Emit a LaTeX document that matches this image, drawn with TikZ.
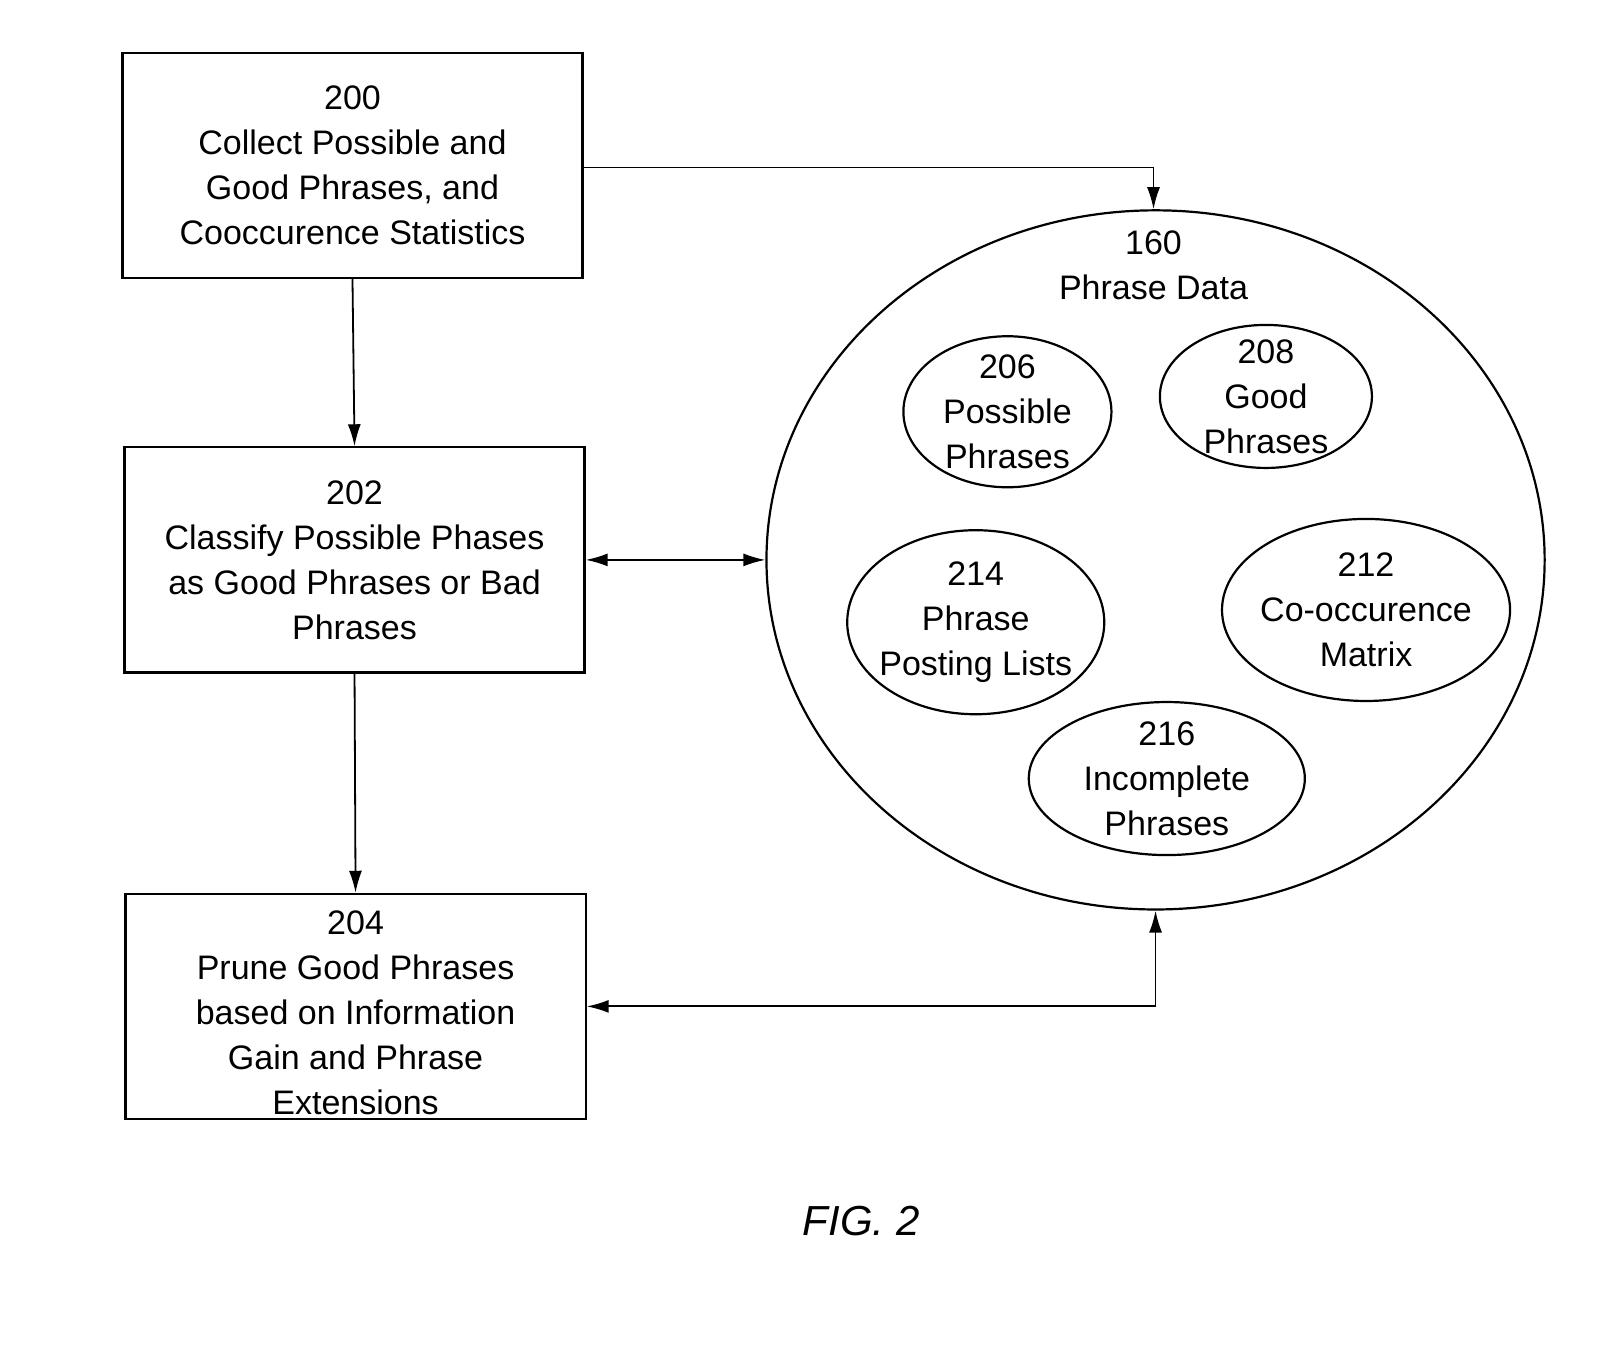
\documentclass[tikz,border=0pt]{standalone}
\usepackage{fontspec}
\setmainfont{Liberation Sans}
\usetikzlibrary{shapes.geometric,arrows.meta}
\begin{document}
\begin{tikzpicture}[x=1.0215pt,y=-1.0215pt,
  txt/.style={align=center,font=\fontsize{34}{45}\selectfont,inner sep=0pt},
  box/.style={draw,line width=2.2pt,minimum width=460pt,minimum height=225pt,inner sep=0pt,txt},
  ell/.style={draw,ellipse,line width=2.2pt,inner sep=0pt},
  arr/.style={line width=1.8pt,-{Latex[length=22pt,width=13pt]}},
  darr/.style={line width=1.8pt,{Latex[length=22pt,width=13pt]}-{Latex[length=22pt,width=13pt]}}]
\useasboundingbox (0,0) rectangle (1566,1329);
\node[box] (b200) at (345,162) {200\\Collect Possible and\\Good Phrases, and\\Cooccurence Statistics};
\node[box] (b202) at (347,548) {202\\Classify Possible Phases\\as Good Phrases or Bad\\Phrases};
\node[box] (b204) at (348,985) {\\[-8pt]204\\Prune Good Phrases\\based on Information\\Gain and Phrase\\Extensions};
\node[ell,minimum width=778pt,minimum height=699pt] (c160) at (1131,548) {};
\node[txt] at (1129,260) {160\\Phrase Data};
\node[ell,minimum width=208pt,minimum height=151pt] (e206) at (986,403) {};
\node[txt] at (e206) {206\\Possible\\Phrases};
\node[ell,minimum width=212pt,minimum height=143pt] (e208) at (1239,388) {};
\node[txt] at (e208) {208\\Good\\Phrases};
\node[ell,minimum width=257pt,minimum height=184pt] (e214) at (955,609) {};
\node[txt] at (e214) {214\\Phrase\\Posting Lists};
\node[ell,minimum width=288pt,minimum height=182pt] (e212) at (1337,597) {};
\node[txt] at (e212) {212\\Co-occurence\\Matrix};
\node[ell,minimum width=276pt,minimum height=153pt] (e216) at (1142,762) {};
\node[txt] at (e216) {216\\Incomplete\\Phrases};
\node[font=\itshape\fontsize{42}{50}\selectfont] (fig) at (843,1195) {FIG. 2};
\draw[arr] (b200.east |- 0,164) -| (c160.north -| 1129,0);
\draw[arr] (b200.south) -- (b202.north);
\draw[arr] (b202.south) -- (b204.north);
\draw[darr] (b202.east) -- (c160.west);
\draw[darr] (b204.east) -| (c160.south);
\end{tikzpicture}
\end{document}
